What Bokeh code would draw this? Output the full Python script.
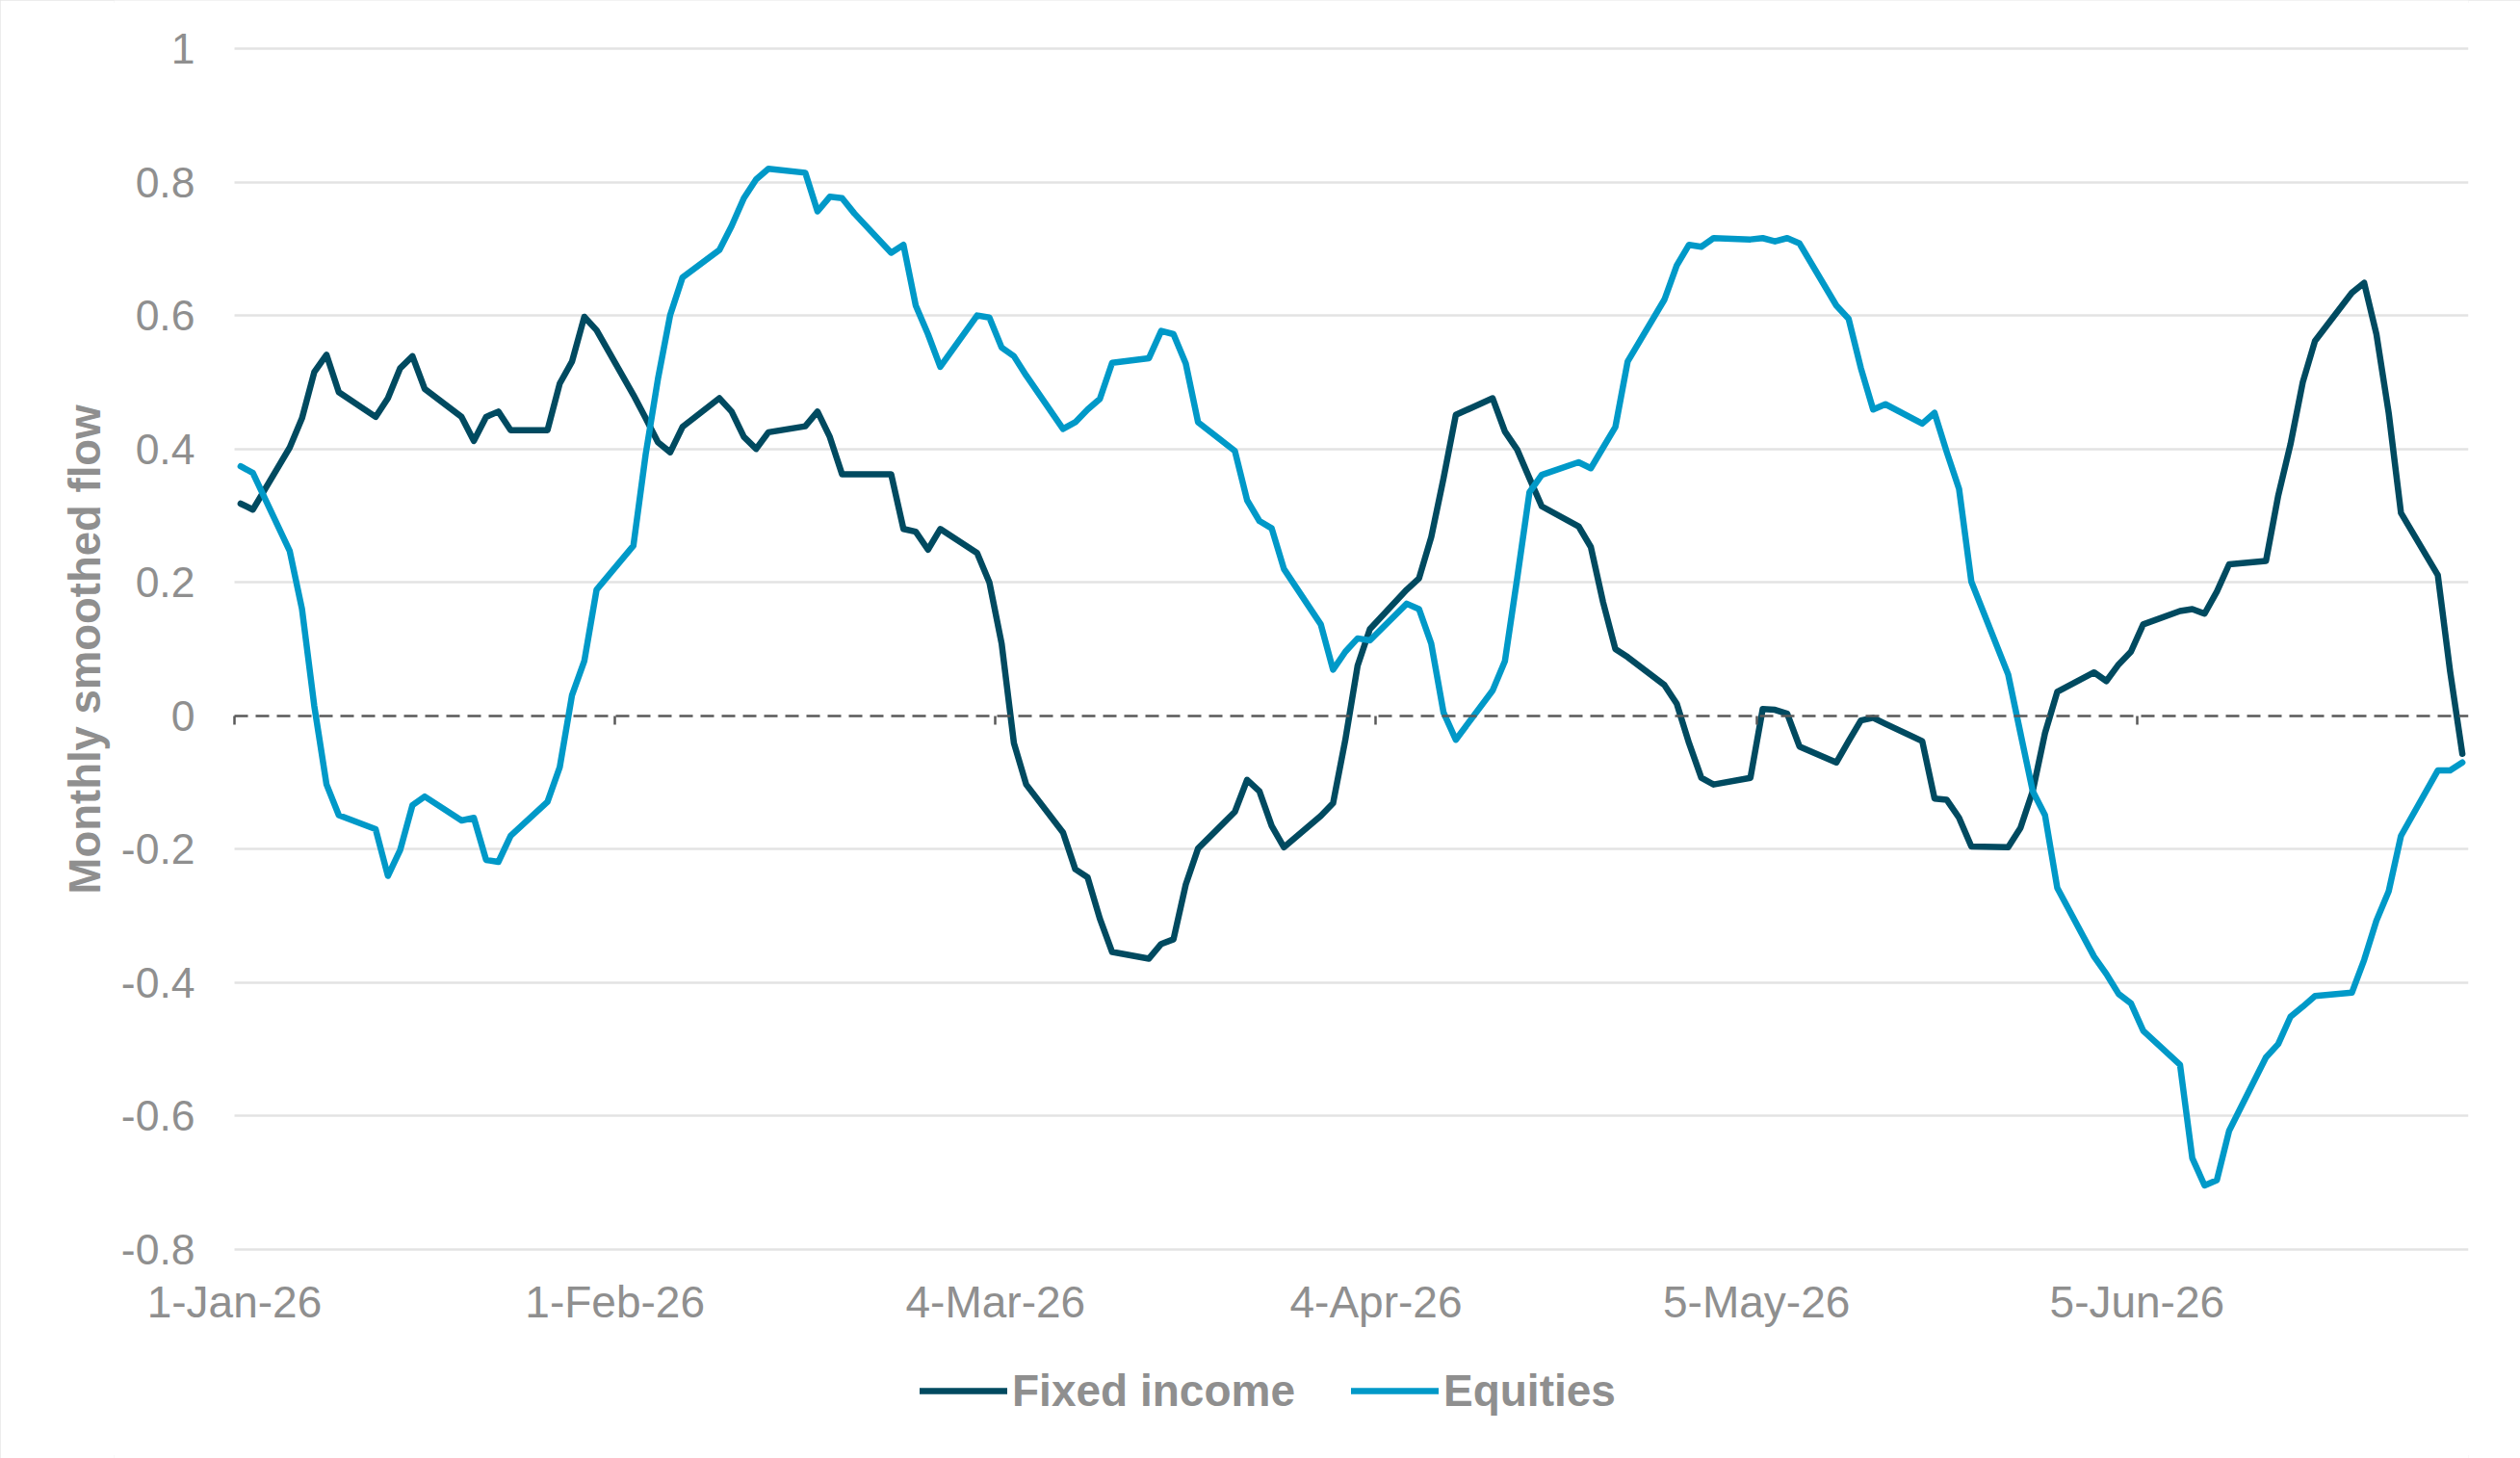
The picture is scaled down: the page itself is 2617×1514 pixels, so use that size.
import pandas as pd
from datetime import datetime
from bokeh.plotting import figure
from bokeh.models import (DatetimeAxis, FixedTicker, DatetimeTickFormatter,
                          NumeralTickFormatter, Legend, LegendItem, Range1d, Title)
from bokeh.embed import file_html
from bokeh.resources import INLINE

# ---------------- data ----------------
first_day = "2026-01-01"
last_day = "2026-07-01"

fixed_income = [
    # Jan
    0.318, 0.309, 0.402, 0.446, 0.515, 0.541, 0.485, 0.448, 0.476, 0.521, 0.539,
    0.490, 0.448, 0.412, 0.448, 0.456, 0.428, 0.428, 0.498, 0.531, 0.598, 0.578,
    # Feb
    0.481, 0.446, 0.410, 0.395, 0.433, 0.476, 0.456, 0.418, 0.400, 0.425,
    0.434, 0.456, 0.418, 0.362, 0.362, 0.362, 0.280, 0.276, 0.249, 0.280,
    # Mar
    0.244, 0.200, 0.108, -0.041, -0.103, -0.175, -0.230, -0.242, -0.304, -0.354, -0.364,
    -0.342, -0.335, -0.253, -0.199, -0.144, -0.096, -0.113, -0.165, -0.197, -0.150, -0.131,
    # Apr
    -0.036, 0.075, 0.130, 0.189, 0.206, 0.268, 0.356, 0.451, 0.476, 0.426, 0.399,
    0.356, 0.314, 0.284, 0.253, 0.170, 0.100, 0.088, 0.046, 0.018, -0.041, -0.093,
    # May
    -0.103, -0.093, 0.010, 0.009, 0.003, -0.046, -0.070, -0.038, -0.007, -0.003, -0.012,
    -0.038, -0.124, -0.126, -0.153, -0.196, -0.197, -0.168, -0.113, -0.026, 0.036,
    # Jun
    0.065, 0.052, 0.077, 0.096, 0.137, 0.157, 0.160, 0.153, 0.186, 0.227, 0.232,
    0.330, 0.407, 0.500, 0.562, 0.634, 0.649, 0.572, 0.454, 0.304, 0.211, 0.067,
    # Jul
    -0.057,
]

equities = [
    # Jan
    0.374, 0.364, 0.247, 0.160, 0.015, -0.103, -0.149, -0.170, -0.240, -0.201, -0.134,
    -0.121, -0.157, -0.153, -0.216, -0.219, -0.180, -0.129, -0.077, 0.031, 0.082, 0.189,
    # Feb
    0.255, 0.392, 0.505, 0.601, 0.657, 0.698, 0.734, 0.776, 0.804, 0.820,
    0.814, 0.756, 0.778, 0.776, 0.753, 0.694, 0.706, 0.615, 0.572, 0.523,
    # Mar
    0.600, 0.597, 0.552, 0.539, 0.510, 0.430, 0.440, 0.459, 0.475, 0.529, 0.536,
    0.577, 0.572, 0.528, 0.440, 0.397, 0.323, 0.292, 0.281, 0.220, 0.137, 0.069,
    # Apr
    0.096, 0.116, 0.113, 0.168, 0.160, 0.108, 0.005, -0.036, 0.038, 0.082, 0.206,
    0.335, 0.361, 0.380, 0.371, 0.402, 0.433, 0.531, 0.624, 0.675, 0.706, 0.703,
    # May
    0.716, 0.714, 0.716, 0.711, 0.716, 0.708, 0.615, 0.595, 0.521, 0.459, 0.467,
    0.438, 0.454, 0.395, 0.340, 0.201, 0.062, -0.026, -0.113, -0.149, -0.258,
    # Jun
    -0.361, -0.387, -0.417, -0.431, -0.472, -0.523, -0.663, -0.704, -0.696, -0.622, -0.512,
    -0.492, -0.451, -0.436, -0.420, -0.415, -0.366, -0.307, -0.263, -0.180, -0.082, -0.082,
    # Jul
    -0.070,
]

series_names = ["Fixed income", "Equities"]
x_tick_labels = ["1-Jan-26", "1-Feb-26", "4-Mar-26", "4-Apr-26", "5-May-26", "5-Jun-26"]
y_ticks = [-0.8, -0.6, -0.4, -0.2, 0.0, 0.2, 0.4, 0.6, 0.8, 1.0]
y_title = "Monthly smoothed flow"
x_start, x_end = datetime(2026, 1, 1), datetime(2026, 7, 2)

# ---------------- layout constants (pixels) ----------------
W, H = 2617, 1514
FRAME_LEFT = 118                 # frame reaches left so tick labels are not clipped
AX_LEFT, AX_RIGHT = 243, 2563    # pixel columns of the x range ends
AX_TOP, AX_BOTTOM = 50, 1297     # pixel rows of the highest / lowest y tick

epoch = pd.Timestamp("1970-01-01")
to_ms = lambda d: (pd.Timestamp(d) - epoch) / pd.Timedelta(milliseconds=1)
xs_ms, xe_ms = to_ms(x_start), to_ms(x_end)
ms_per_px = (xe_ms - xs_ms) / (AX_RIGHT - AX_LEFT)
y_lo, y_hi = y_ticks[0], y_ticks[-1]
u_per_px = (y_hi - y_lo) / (AX_BOTTOM - AX_TOP)

# ---------------- build ----------------
dates = pd.bdate_range(first_day, last_day)
assert len(dates) == len(fixed_income) == len(equities)
xs = dates + pd.Timedelta(hours=12)          # points sit in the middle of each day

tick_dates = pd.to_datetime(x_tick_labels, format="%d-%b-%y")
tick_ms = [to_ms(d) for d in tick_dates]

FONT = "Liberation Sans"
GREY = "#8f8f8f"
FI_COLOR = "#004a60"
EQ_COLOR = "#0099c8"

p = figure(width=W, height=H, x_axis_type="datetime",
           output_backend="svg", toolbar_location=None,
           x_range=Range1d(xs_ms - (AX_LEFT - FRAME_LEFT) * ms_per_px, xe_ms),
           y_range=Range1d(y_lo - (H - AX_BOTTOM) * u_per_px, y_hi + AX_TOP * u_per_px),
           min_border_left=FRAME_LEFT, min_border_right=W - AX_RIGHT,
           min_border_top=0, min_border_bottom=0)
p.outline_line_color = None
p.background_fill_color = "white"
p.border_fill_color = "white"
p.styles = {"outline": "3px solid #e6e6e6", "outline-offset": "-3px"}

# grid (only across the real x range)
p.xgrid.grid_line_color = None
p.ygrid.ticker = FixedTicker(ticks=[t for t in y_ticks if t != 0])
p.ygrid.cross_bounds = (xs_ms, xe_ms)
p.ygrid.grid_line_color = "#e3e3e3"
p.ygrid.grid_line_width = 2.5

# y axis, pinned at the start of the x range
ya = p.yaxis[0]
ya.fixed_location = xs_ms
ya.ticker = FixedTicker(ticks=y_ticks)
ya.formatter = NumeralTickFormatter(format="0.[0]")
ya.axis_line_color = None
ya.major_tick_line_color = None
ya.minor_tick_line_color = None
ya.major_label_standoff = 35
ya.major_label_text_font = FONT
ya.major_label_text_font_size = "44.5px"
ya.major_label_text_color = GREY

# y title (vertical), placed from the bottom of the frame
p.add_layout(Title(text=y_title, align="left", offset=H - 928,
                   text_font=FONT, text_font_size="45.5px", text_font_style="bold",
                   text_color=GREY, standoff=10), "left")

# x axis at zero: dashed line with small tick marks
za = p.xaxis[0]
za.fixed_location = 0
za.bounds = (xs_ms, xe_ms)
za.ticker = FixedTicker(ticks=tick_ms)
za.axis_line_color = "#595959"
za.axis_line_width = 2.5
za.axis_line_dash = "14 8"
za.major_tick_line_color = "#595959"
za.major_tick_line_width = 2.5
za.major_tick_in = 0
za.major_tick_out = 9
za.minor_tick_line_color = None
za.major_label_text_font_size = "1px"
za.major_label_text_alpha = 0
za.major_label_standoff = 0

# x labels under the lowest gridline
fmt = "%-d-%b-%y"
lab = DatetimeAxis(ticker=FixedTicker(ticks=tick_ms), fixed_location=y_lo,
                   formatter=DatetimeTickFormatter(days=fmt, months=fmt, years=fmt,
                                                   hours=fmt, minutes=fmt, seconds=fmt,
                                                   milliseconds=fmt, microseconds=fmt,
                                                   hourmin=fmt, minsec=fmt))
lab.axis_line_color = None
lab.major_tick_line_color = None
lab.minor_tick_line_color = None
lab.major_label_standoff = 22
lab.major_label_text_font = FONT
lab.major_label_text_font_size = "46px"
lab.major_label_text_color = GREY
p.add_layout(lab, "below")

# series
r_fi = p.line(xs, fixed_income, line_color=FI_COLOR, line_width=6.5,
              line_join="round", line_cap="round")
r_eq = p.line(xs, equities, line_color=EQ_COLOR, line_width=6.5,
              line_join="round", line_cap="round")

legend = Legend(items=[LegendItem(label=series_names[0], renderers=[r_fi]),
                       LegendItem(label=series_names[1], renderers=[r_eq])],
                orientation="horizontal", location=(955 - FRAME_LEFT, 43),
                glyph_width=91, glyph_height=50, label_standoff=5, spacing=58,
                padding=0, margin=0, border_line_color=None,
                background_fill_alpha=0,
                label_text_font=FONT, label_text_font_size="46px",
                label_text_font_style="bold", label_text_color=GREY)
p.add_layout(legend, "center")

open("out.html", "w").write(file_html(p, INLINE))
